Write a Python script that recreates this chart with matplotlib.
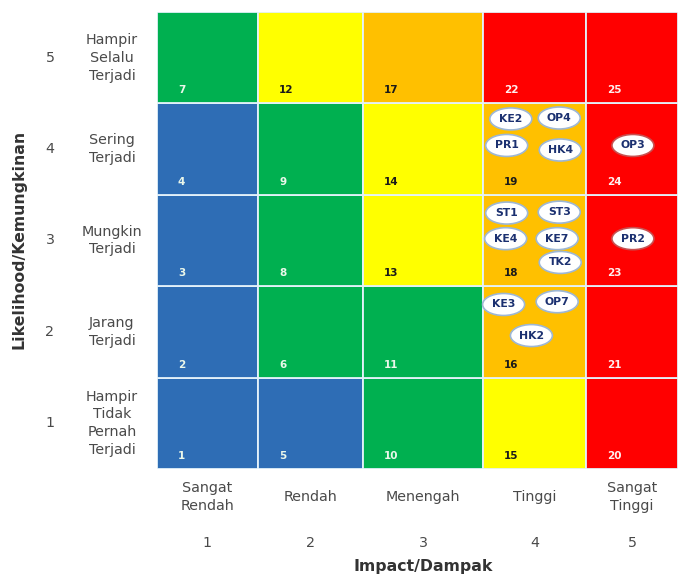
import numpy as np
import matplotlib
matplotlib.use("Agg")
import matplotlib.pyplot as plt
from matplotlib.patches import Rectangle, Ellipse

# DATA
impact_labels = ["Sangat\nRendah", "Rendah", "Menengah", "Tinggi", "Sangat\nTinggi"]
likelihood_labels = ["Hampir\nTidak\nPernah\nTerjadi", "Jarang\nTerjadi", "Mungkin\nTerjadi",
                     "Sering\nTerjadi", "Hampir\nSelalu\nTerjadi"]   # likelihood 1..5

# risk level number per cell, rows = likelihood 1..5, cols = impact 1..5
score = [[1, 5, 10, 15, 20],
         [2, 6, 11, 16, 21],
         [3, 8, 13, 18, 23],
         [4, 9, 14, 19, 24],
         [7, 12, 17, 22, 25]]

# colour class per cell: B=blue, G=green, Y=yellow, O=orange, R=red
level = [["B", "B", "G", "Y", "R"],
         ["B", "G", "G", "O", "R"],
         ["B", "G", "Y", "O", "R"],
         ["B", "G", "Y", "O", "R"],
         ["G", "Y", "O", "R", "R"]]

risk_codes = ["KE2", "OP4", "PR1", "HK4", "OP3",
              "ST1", "ST3", "KE4", "KE7", "TK2", "PR2",
              "KE3", "OP7", "HK2"]
risk_impact = [4, 4, 4, 4, 5,
               4, 4, 4, 4, 4, 5,
               4, 4, 4]
risk_likelihood = [4, 4, 4, 4, 4,
                   3, 3, 3, 3, 3, 3,
                   2, 2, 2]

# STYLE / LAYOUT
colors = {"B": "#2E6DB5", "G": "#00B050", "Y": "#FFFF00", "O": "#FFC000", "R": "#FF0000"}
num_color = {"B": "#EAF7EA", "G": "#EAF7EA", "Y": "#1A1A1A", "O": "#1A1A1A", "R": "#FFEFEF"}
col_w = [101, 105, 120, 103, 92]          # cell widths in px
row_h = 457 / 5.0
# where each bubble sits inside its cell (fraction from left, fraction from top)
slot = {"KE2": (0.27, 0.17), "OP4": (0.74, 0.16), "PR1": (0.23, 0.46), "HK4": (0.75, 0.51),
        "OP3": (0.51, 0.46),
        "ST1": (0.23, 0.20), "ST3": (0.74, 0.19), "KE4": (0.22, 0.48), "KE7": (0.72, 0.48),
        "TK2": (0.75, 0.74), "PR2": (0.51, 0.48),
        "KE3": (0.20, 0.20), "OP7": (0.72, 0.17), "HK2": (0.47, 0.54)}
txt = "#4A4A4A"
lab_fs = 10.3

W, H = 678, 578
fig = plt.figure(figsize=(W / 100, H / 100), dpi=100)
ax = fig.add_axes([157 / W, (H - 469) / H, sum(col_w) / W, 457 / H])
x_edges = np.concatenate([[0], np.cumsum(col_w)])
ax.set_xlim(0, x_edges[-1])
ax.set_ylim(0, 457)
ax.axis("off")

for li in range(5):
    for ii in range(5):
        x0 = x_edges[ii]
        y0 = li * row_h
        lv = level[li][ii]
        ax.add_patch(Rectangle((x0, y0), col_w[ii], row_h, facecolor=colors[lv],
                               edgecolor="#E4F2FA", linewidth=1.3))
        ax.text(x0 + 21, y0 + 13, str(score[li][ii]), color=num_color[lv],
                fontsize=7.5, fontweight="bold", ha="left", va="center")

for code, imp, lik in zip(risk_codes, risk_impact, risk_likelihood):
    fx, fy = slot[code]
    cx = x_edges[imp - 1] + fx * col_w[imp - 1]
    cy = lik * row_h - fy * row_h
    edge = "#C85050" if level[lik - 1][imp - 1] == "R" else "#9DB7D5"
    ax.add_patch(Ellipse((cx, cy), 42, 22, facecolor="white", edgecolor=edge, linewidth=1.2))
    ax.text(cx, cy, code, color="#1B3070", fontsize=7.8, fontweight="bold",
            ha="center", va="center")

# row labels
for li in range(5):
    cy = (li + 0.5) * row_h
    ax.text(-107, cy, str(li + 1), color=txt, fontsize=lab_fs, ha="center", va="center", clip_on=False)
    ax.text(-45, cy, likelihood_labels[li], color=txt, fontsize=lab_fs, ha="center", va="center",
            linespacing=1.35, clip_on=False)

# column labels
for ii in range(5):
    cx = (x_edges[ii] + x_edges[ii + 1]) / 2
    ax.text(cx, -28, impact_labels[ii], color=txt, fontsize=lab_fs, ha="center", va="center",
            linespacing=1.3, clip_on=False)
    ax.text(cx, -74, str(ii + 1), color=txt, fontsize=lab_fs, ha="center", va="center", clip_on=False)

fig.text(423 / W, 1 - 566 / H, "Impact/Dampak", color="#333333", fontsize=11.3,
         fontweight="bold", ha="center", va="center")
fig.text(19 / W, 1 - 239 / H, "Likelihood/Kemungkinan", color="#333333", fontsize=11.3,
         fontweight="bold", ha="center", va="center", rotation=90)

fig.savefig("out.png", dpi=100)
